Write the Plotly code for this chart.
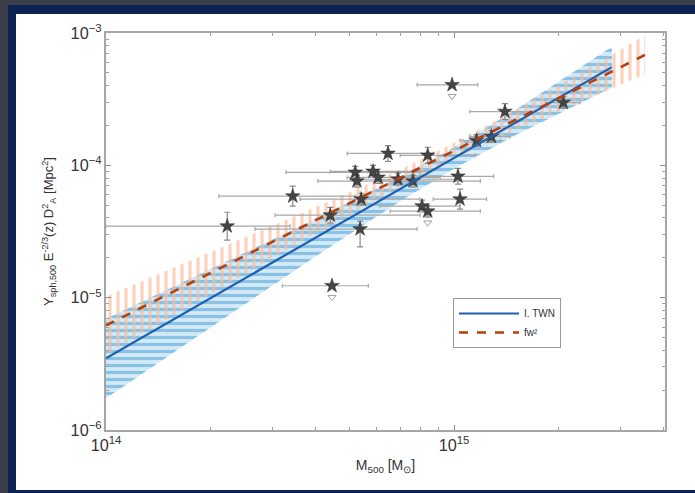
import plotly.graph_objects as go

# ---------------- data ----------------
mass = [2.23e14, 3.44e14, 4.41e14, 4.46e14, 5.37e14, 5.20e14, 5.26e14, 5.85e14,
        6.05e14, 6.46e14, 6.90e14, 7.62e14, 8.40e14, 1.026e15, 1.04e15, 8.09e14,
        8.40e14, 5.41e14, 9.87e14, 1.40e15, 2.06e15, 1.16e15, 1.28e15]
yval = [3.47e-5, 5.85e-5, 4.20e-5, 1.23e-5, 3.30e-5, 8.85e-5, 7.60e-5, 9.00e-5,
        8.10e-5, 1.23e-4, 7.85e-5, 7.60e-5, 1.19e-4, 8.26e-5, 5.55e-5, 4.92e-5,
        4.50e-5, 5.55e-5, 4.06e-4, 2.55e-4, 2.98e-4, 1.54e-4, 1.65e-4]
mass_lo = [1.00e14, 2.11e14, 3.06e14, 3.21e14, 2.68e14, 3.29e14, 4.06e14, 4.41e14,
           4.93e14, 4.93e14, 5.03e14, 6.13e14, 7.00e14, 7.98e14, 8.71e14, 6.13e14,
           6.55e14, 3.61e14, 7.83e14, 1.11e15, 1.83e15, 1.04e15, 1.11e15]
mass_hi = [3.38e14, 5.20e14, 7.98e14, 5.67e14, 7.83e14, 7.98e14, 7.48e14, 8.53e14,
           9.12e14, 8.71e14, 1.04e15, 1.19e15, 1.15e15, 1.30e15, 1.24e15, 1.04e15,
           1.19e15, 7.98e14, 1.17e15, 1.65e15, 2.30e15, 1.36e15, 1.45e15]
y_lo = [2.72e-5, 4.92e-5, 3.66e-5, 1.23e-5, 2.42e-5, 7.98e-5, 6.85e-5, 8.12e-5,
        7.30e-5, 1.07e-4, 7.08e-5, 6.85e-5, 1.04e-4, 7.20e-5, 4.67e-5, 4.44e-5,
        4.06e-5, 5.00e-5, 4.06e-4, 2.22e-4, 2.69e-4, 1.39e-4, 1.49e-4]
y_hi = [4.42e-5, 6.96e-5, 4.82e-5, 1.23e-5, 3.79e-5, 9.81e-5, 8.43e-5, 9.98e-5,
        8.98e-5, 1.41e-4, 8.71e-5, 8.43e-5, 1.37e-4, 9.48e-5, 6.60e-5, 5.46e-5,
        4.99e-5, 6.15e-5, 4.06e-4, 2.93e-4, 3.30e-4, 1.71e-4, 1.83e-4]
upper_limit = [False, False, False, True, False, False, False, False,
               False, False, False, False, False, False, False, False,
               True, False, True, False, False, False, False]

# fit lines (end points)
blue_x = [1.0e14, 2.84e15]
blue_y = [3.48e-6, 5.52e-4]
red_x = [1.0e14, 3.54e15]
red_y = [6.17e-6, 6.84e-4]

# uncertainty bands
blue_band_x = [1e14, 2e14, 4e14, 7e14, 1e15, 1.5e15, 2.84e15]
blue_band_hi = [6.93e-6, 1.64e-5, 3.93e-5, 8.20e-5, 1.37e-4, 2.62e-4, 7.87e-4]
blue_band_lo = [1.74e-6, 6.01e-6, 2.05e-5, 5.35e-5, 9.42e-5, 1.69e-4, 3.87e-4]
red_band_x = [1e14, 2e14, 4e14, 7e14, 1e15, 1.5e15, 2.51e15, 3.54e15]
red_band_hi = [1.02e-5, 2.21e-5, 4.82e-5, 9.31e-5, 1.48e-4, 2.63e-4, 5.69e-4, 9.57e-4]
red_band_lo = [3.72e-6, 1.07e-5, 3.07e-5, 6.93e-5, 1.12e-4, 1.84e-4, 3.32e-4, 4.89e-4]

legend_names = ["I. TWN", "fw²"]

# ---------------- figure ----------------
W, H = 695, 493
L, R, T, B = 106, 30, 33, 63
pw, ph = W - L - R, H - T - B

def px(p):
    return (p - L) / pw

def py(p):
    return (H - B - p) / ph

fig = go.Figure()

# blue band (horizontal stripes)
fig.add_trace(go.Scatter(
    x=blue_band_x + blue_band_x[::-1], y=blue_band_hi + blue_band_lo[::-1],
    mode="lines", line=dict(width=0), fill="toself",
    fillcolor="#d4e9f6",
    fillpattern=dict(shape="-", size=7, solidity=0.45, fgcolor="#88c2e7",
                     bgcolor="#d4e9f6", fillmode="replace"),
    hoverinfo="skip", showlegend=False))

# red band (vertical stripes)
fig.add_trace(go.Scatter(
    x=red_band_x + red_band_x[::-1], y=red_band_hi + red_band_lo[::-1],
    mode="lines", line=dict(width=0), fill="toself",
    fillcolor="rgba(0,0,0,0)",
    fillpattern=dict(shape="|", size=8, solidity=0.4,
                     fgcolor="rgba(250,185,150,0.65)",
                     bgcolor="rgba(255,255,255,0)", fillmode="replace"),
    hoverinfo="skip", showlegend=False))

# data points with error bars
ex_plus = [h - m for h, m in zip(mass_hi, mass)]
ex_minus = [m - l for m, l in zip(mass, mass_lo)]
ey_plus = [h - v for h, v in zip(y_hi, yval)]
ey_minus = [v - l for v, l in zip(yval, y_lo)]

fig.add_trace(go.Scatter(
    x=mass, y=yval, mode="markers",
    marker=dict(symbol="star", size=11, color="#444444",
                line=dict(color="#2a2a2a", width=0.5)),
    error_x=dict(type="data", symmetric=False, array=ex_plus, arrayminus=ex_minus,
                 color="#a8a8a8", thickness=1.2, width=2),
    error_y=dict(type="data", symmetric=False, array=ey_plus, arrayminus=ey_minus,
                 color="#8a8a8a", thickness=1.2, width=3),
    hoverinfo="skip", showlegend=False))

# upper-limit arrows
ul_x = [m for m, u in zip(mass, upper_limit) if u]
ul_y = [v * 0.82 for v, u in zip(yval, upper_limit) if u]
fig.add_trace(go.Scatter(
    x=ul_x, y=ul_y, mode="markers",
    marker=dict(symbol="triangle-down-open", size=7, color="#a0a0a0",
                line=dict(width=1)),
    hoverinfo="skip", showlegend=False))

# fit lines
fig.add_trace(go.Scatter(
    x=blue_x, y=blue_y, mode="lines", name=legend_names[0],
    line=dict(color="#1f5fb0", width=2.2)))
fig.add_trace(go.Scatter(
    x=red_x, y=red_y, mode="lines", name=legend_names[1],
    line=dict(color="#b5400f", width=2.6, dash="dash")))

# ---------------- frame (background) ----------------
shapes = [
    dict(type="rect", xref="paper", yref="paper", layer="below",
         x0=px(-5), x1=px(W + 50), y0=py(H + 50), y1=py(-5),
         fillcolor="#3b3d48", line=dict(width=0)),
    dict(type="rect", xref="paper", yref="paper", layer="below",
         x0=px(8), x1=px(W + 50), y0=py(H + 50), y1=py(5),
         fillcolor="#0b2452", line=dict(width=0)),
    dict(type="rect", xref="paper", yref="paper", layer="below",
         x0=px(16), x1=px(W + 50), y0=py(490), y1=py(14),
         fillcolor="white", line=dict(width=0)),
]

axis_common = dict(
    type="log", showgrid=False, zeroline=False, showline=True,
    linecolor="#a6a6a6", linewidth=1.5, mirror="ticks",
    ticks="inside", ticklen=5, tickcolor="#8c8c8c", tickwidth=1,
    exponentformat="power", dtick=1,
    tickfont=dict(family="Liberation Sans, Arial, sans-serif", size=13, color="#333333"),
    minor=dict(ticks="inside", ticklen=3, tickcolor="#a0a0a0", showgrid=False),
)

fig.update_layout(
    width=W, height=H,
    margin=dict(l=L, r=R, t=T, b=B),
    paper_bgcolor="white", plot_bgcolor="white",
    font=dict(family="Liberation Sans, Arial, sans-serif", color="#333333"),
    shapes=shapes,
    xaxis=dict(axis_common, range=[14, 15.606],
               title=dict(text="M<sub>500</sub> [M<sub>⊙</sub>]",
                          font=dict(size=14, color="#333333"), standoff=8)),
    yaxis=dict(axis_common, range=[-6, -3],
               title=dict(text="Y<sub>sph,500</sub> E<sup>-2/3</sup>(z) D<sup>2</sup><sub>A</sub> [Mpc<sup>2</sup>]",
                          font=dict(size=13, color="#333333"), standoff=14)),
    legend=dict(x=px(453), y=py(298), xanchor="left", yanchor="top",
                bgcolor="white", bordercolor="#9a9a9a", borderwidth=1,
                font=dict(size=10, color="#333333"), tracegroupgap=0,
                itemwidth=60),
)

fig.write_html("out.html")
